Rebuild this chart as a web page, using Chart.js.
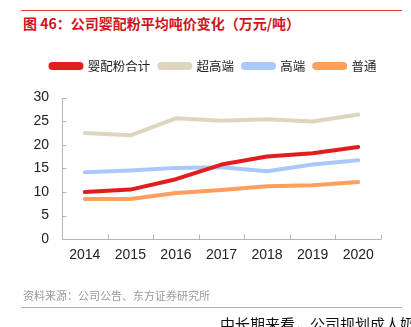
<!DOCTYPE html>
<html><head><meta charset="utf-8">
<script src="https://cdn.jsdelivr.net/npm/chart.js@4.4.0/dist/chart.umd.min.js"></script>
<style>
html,body{margin:0;padding:0;background:#fff;width:411px;height:327px;overflow:hidden;position:relative;}
#wrap{position:absolute;left:0;top:0;width:411px;height:327px;}
.t{position:absolute;white-space:nowrap;font-family:"Noto Sans CJK SC","Noto Sans",sans-serif;}
#topline{position:absolute;left:21px;top:10px;width:381px;height:1px;background:#e03a3a;}
#botline{position:absolute;left:21px;top:307px;width:381px;height:1px;background:#e39a9a;}
</style></head><body>
<div id="topline"></div>
<div class="t" style="left:23px;top:14px;font-size:14px;line-height:18px;font-weight:bold;color:#d0141e;">图 46：公司婴配粉平均吨价变化（万元/吨）</div>
<div id="wrap"><canvas id="c" width="411" height="327"></canvas></div>
<div class="t" style="left:23px;top:288px;font-size:11px;line-height:14px;color:#9a9a9a;">资料来源：公司公告、东方证券研究所</div>
<div id="botline"></div>
<div class="t" style="left:220px;top:315px;font-size:15px;line-height:18px;color:#111;">中长期来看，公司规划成人奶粉</div>
<script>
const categories = ['2014','2015','2016','2017','2018','2019','2020'];
const seriesNames = ['婴配粉合计','超高端','高端','普通'];
const totalValues = [10.0, 10.5, 12.7, 15.8, 17.5, 18.2, 19.5];
const superHighValues = [22.5, 22.0, 25.6, 25.1, 25.4, 24.9, 26.4];
const highValues = [14.2, 14.55, 15.1, 15.25, 14.4, 15.8, 16.7];
const normalValues = [8.5, 8.5, 9.8, 10.4, 11.2, 11.4, 12.1];
const yTicks = [0,5,10,15,20,25,30];
const colors = ['#e21d1d','#ddd5bf','#a9c9fb','#ff9f5b'];

const PAD_LEFT = 10;
const AXIS_X = 62;
const LEGEND_CY = 66;
const LEGEND_CX = 213.5;

const legendPlace = {
  id:'legendPlace',
  beforeDraw(chart){
    const lg = chart.legend;
    if(!lg || !lg.legendHitBoxes || !lg.legendHitBoxes.length) return;
    const hb = lg.legendHitBoxes;
    const first = hb[0], last = hb[hb.length-1];
    const cy = first.top + first.height/2;
    const cx = (first.left + last.left + last.width)/2;
    const dy = LEGEND_CY - cy, dx = LEGEND_CX - cx;
    lg.top += dy; lg.bottom += dy; lg.left += dx; lg.right += dx;
    hb.forEach(h=>{h.top += dy; h.left += dx;});
  }
};

const axisPlugin = {
  id:'axisPlugin',
  beforeDatasetsDraw(chart){
    const ctx = chart.ctx, x = chart.scales.x, y = chart.scales.y;
    const ca = chart.chartArea;
    ctx.save();
    ctx.strokeStyle = '#b5b5b5';
    ctx.lineWidth = 1;
    const left = Math.round(ca.left)+0.5, bottom = Math.round(ca.bottom)+0.5;
    ctx.beginPath();
    ctx.moveTo(left, Math.round(ca.top));
    ctx.lineTo(left, bottom);
    ctx.lineTo(Math.round(ca.right), bottom);
    ctx.stroke();
    ctx.beginPath();
    yTicks.forEach(v=>{
      const py = Math.round(y.getPixelForValue(v))+0.5;
      ctx.moveTo(left, py); ctx.lineTo(left+4, py);
    });
    for(let i=0;i<categories.length;i++){
      const px = Math.round(x.getPixelForValue(i+0.5))+0.5;
      ctx.moveTo(px, bottom); ctx.lineTo(px, bottom-5);
    }
    ctx.stroke();
    ctx.restore();
  }
};

const mk = (label, data, color) => ({
  label, data, borderColor: color, backgroundColor: color,
  borderWidth: 4, pointRadius: 0, pointHoverRadius: 0, tension: 0,
  borderCapStyle: 'round', borderJoinStyle: 'round', fill: false
});

new Chart(document.getElementById('c'), {
  type: 'line',
  data: {
    labels: categories,
    datasets: [
      mk(seriesNames[0], totalValues, colors[0]),
      mk(seriesNames[1], superHighValues, colors[1]),
      mk(seriesNames[2], highValues, colors[2]),
      mk(seriesNames[3], normalValues, colors[3])
    ]
  },
  options: {
    responsive: false,
    animation: false,
    layout: { padding: { left: PAD_LEFT, right: 30, top: 66, bottom: 55 } },
    plugins: {
      tooltip: { enabled: false },
      legend: {
        display: true,
        position: 'top',
        labels: {
          boxWidth: 31, boxHeight: 4, useBorderRadius: true, borderRadius: 2,
          color: '#222', padding: 9,
          font: { family: '"Noto Sans CJK SC","Noto Sans",sans-serif', size: 12.5 }
        }
      }
    },
    scales: {
      x: {
        offset: true,
        grid: { display: false, drawTicks: false },
        border: { display: false },
        ticks: { color: '#222', padding: 8, font: { family: '"Liberation Sans",Arial,sans-serif', size: 14 } }
      },
      y: {
        min: 0, max: 30,
        afterBuildTicks(scale){ scale.ticks = yTicks.map(v=>({value:v})); },
        afterFit(scale){ scale.width = AXIS_X - PAD_LEFT; },
        grid: { display: false, drawTicks: false },
        border: { display: false },
        ticks: { color: '#222', padding: 13, font: { family: '"Liberation Sans",Arial,sans-serif', size: 14 } }
      }
    }
  },
  plugins: [legendPlace, axisPlugin]
});
</script>
</body></html>
